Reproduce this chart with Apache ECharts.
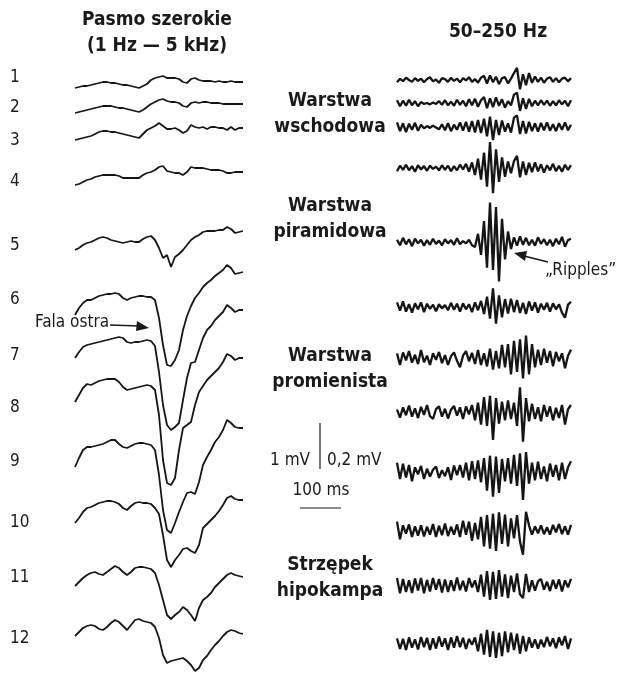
<!DOCTYPE html>
<html>
<head>
<meta charset="utf-8">
<script src="https://cdn.jsdelivr.net/npm/echarts@6/dist/echarts.min.js"></script>
<style>
html,body{margin:0;padding:0;background:#fff;}
#main{width:621px;height:675px;}
</style>
</head>
<body>
<div id="main"></div>
<script>
// czas próbek (ms)
var leftTimeMs = [0,10,20,30,40,50,60,70,80,90,100,110,120,130,140,150,160,170,180,190,200,210,220,230,240,250,260,270,280,290,300,310,320,330,340,350,360,370,380,390,400,410,420];
var rightTimeMs = [0,7.5,15,22.5,30,37.5,45,52.5,60,67.5,75,82.5,90,97.5,105,112.5,120,127.5,135,142.5,150,157.5,165,172.5,180,187.5,195,202.5,210,217.5,225,232.5,240,247.5,255,262.5,270,277.5,285,292.5,300,307.5,315,322.5,330,337.5,345,352.5,360,367.5,375,382.5,390,397.5,405,412.5,420,427.5,435];

// pasmo szerokie (uV)
var broad1 = [-84,-63,-42,-42,-21,0,21,42,42,21,21,0,-21,-21,-42,-63,-84,-42,0,84,126,147,168,126,126,126,105,42,21,105,126,84,63,63,63,42,63,42,42,63,42,42,42];
var broad2 = [-105,-84,-63,-42,-21,0,21,42,42,42,21,0,0,-21,-42,-63,-84,-42,21,84,126,168,189,147,126,126,105,42,21,105,126,105,126,126,105,105,105,84,84,84,84,84,84];
var broad3 = [-168,-147,-126,-105,-84,-42,0,21,21,0,0,-21,-42,-63,-84,-105,-126,-42,42,84,126,189,126,63,63,84,42,-21,21,147,105,84,105,63,105,105,84,84,42,105,42,84,84];
var broad4 = [-189,-168,-126,-84,-63,-21,0,21,21,21,21,0,-42,-42,-42,-42,-42,21,63,84,126,189,210,105,84,63,63,21,84,189,168,168,168,147,126,126,126,105,63,63,84,84,84];
var broad5 = [-168,-126,-63,-21,0,42,84,105,84,42,21,0,-21,0,21,0,0,63,105,126,42,-126,-336,-273,-525,-315,-252,-168,-63,42,105,147,210,231,231,231,252,252,315,273,189,210,231];
var broad6 = [-378,-231,-126,-63,-63,-21,21,42,63,63,84,63,-21,-63,-21,0,21,21,0,0,-63,-441,-1008,-1428,-1449,-1323,-1113,-693,-399,-189,-21,84,210,294,357,441,504,567,672,609,483,504,525];
var broad7 = [-336,-210,-105,-63,-42,-21,0,21,42,63,84,105,84,0,-21,0,0,21,42,21,-84,-630,-1323,-1743,-1848,-1785,-1701,-1218,-756,-441,-420,-168,84,252,336,462,546,630,777,714,630,672,672];
var broad8 = [-315,-168,-21,63,42,84,126,147,168,168,168,105,0,-63,-42,-21,0,21,42,21,-63,-588,-1533,-2016,-2058,-1911,-1323,-861,-798,-735,-378,-105,21,147,231,315,399,525,693,651,567,609,609];
var broad9 = [-462,-273,-105,-42,-42,-21,0,21,63,105,105,21,-42,-63,-21,21,42,42,21,0,-105,-630,-1365,-1785,-1848,-1638,-1407,-1197,-1008,-987,-1029,-777,-420,-252,-105,63,168,315,525,462,378,357,357];
var broad10 = [-378,-273,-147,-63,-42,0,42,63,84,84,63,21,-63,-105,-21,42,63,42,42,21,-63,-189,-630,-1155,-1302,-1155,-1050,-924,-903,-966,-1008,-840,-483,-399,-315,-231,-126,0,147,189,126,105,105];
var broad11 = [-336,-252,-168,-105,-63,-42,-84,-105,-42,21,84,42,-42,-105,-42,42,63,63,42,21,-63,-315,-630,-945,-1029,-945,-882,-777,-840,-945,-1071,-798,-630,-567,-483,-357,-273,-189,-105,-63,-105,-126,-147];
var broad12 = [-273,-189,-105,-63,-42,-63,-126,-147,-84,0,63,21,-63,-147,-42,63,84,42,21,0,-84,-315,-672,-840,-798,-777,-756,-735,-798,-882,-1008,-945,-777,-693,-567,-462,-378,-273,-189,-147,-168,-210,-231];

// 50-250 Hz (uV)
var ripple1 = [-10,5,-5,10,0,-8,8,-4,6,-10,4,12,-6,2,-12,8,4,-8,10,-4,6,-10,8,-2,12,-8,4,-12,10,18,-15,20,-10,14,-18,8,12,-14,6,30,52,-40,25,-22,30,-12,15,-8,10,-12,6,12,-8,8,-10,6,10,-6,8];
var ripple2 = [12,-14,10,-12,14,-10,8,-14,4,-4,0,-6,2,-4,8,-8,12,-10,6,-12,14,-8,10,-14,16,-10,18,-16,12,26,-22,20,-18,24,-12,16,-20,8,-10,36,44,-34,20,-26,18,-14,10,-10,12,-8,10,-12,8,-10,12,-6,10,-14,12];
var ripple3 = [20,-18,16,-22,14,-12,18,-16,10,-6,4,-4,6,-2,-10,12,-14,16,-18,10,-12,20,-16,22,-20,26,-24,30,-26,36,-40,44,-56,30,-34,28,-20,16,-24,40,50,-30,26,-28,22,-18,16,-20,18,-14,20,-16,12,-18,16,-12,20,-14,10];
var ripple4 = [-14,10,-8,14,-10,8,-16,12,-6,8,-12,10,-4,6,-10,12,-8,10,-14,8,-10,14,-6,18,-16,24,-30,40,-50,66,-80,112,-108,80,-60,46,-38,28,-22,30,52,-40,28,-30,22,-18,24,-14,16,-20,12,-10,18,-14,10,-16,14,-8,12];
var ripple5 = [10,-14,18,-10,12,-18,14,-6,10,-16,8,-12,14,-8,6,-14,12,-6,8,-12,16,-10,4,-6,10,-14,-22,35,-55,90,-110,170,-120,150,-170,100,-75,45,-30,20,-16,24,-12,18,-14,10,-16,20,-8,12,-14,10,-18,14,-10,22,-20,8,14];
var ripple6 = [20,-16,24,-20,12,-24,16,-10,20,-22,14,-8,10,-18,12,-6,8,-14,18,-12,14,-20,16,-10,12,-22,20,-14,26,-30,44,-50,80,-72,50,-44,34,-28,36,-22,30,-26,18,-30,24,-16,20,-24,14,-12,18,-20,16,-10,12,-24,-46,10,22];
var ripple7 = [20,-30,24,-10,30,-20,14,-26,34,-18,10,-30,20,-8,26,-22,12,-30,8,24,-12,-40,10,30,-14,22,-26,34,-30,20,-36,40,-50,30,-44,56,-40,60,-70,74,-60,80,-88,96,-70,60,-40,36,-30,40,-20,30,-36,26,-14,20,-44,10,36];
var ripple8 = [10,-24,20,-14,28,-20,16,-26,22,-12,30,-18,-30,12,24,-20,14,-28,10,26,-16,20,-30,24,-10,30,-36,40,-54,64,-60,70,-120,60,-50,44,-36,50,-30,40,-60,106,-128,60,-40,36,-30,20,-40,30,-20,24,-36,18,-26,30,-54,12,30];
var ripple9 = [40,-30,36,-24,30,-40,20,-10,26,-30,14,-20,10,24,-26,8,-18,20,-34,28,-14,30,-24,40,-36,46,-30,50,-44,60,-80,70,-106,66,-90,56,-40,60,-50,74,-60,80,-120,86,-50,40,-36,44,-30,24,-40,36,-20,30,-36,40,-30,20,46];
var ripple10 = [36,-40,20,-16,24,-30,16,-24,20,-28,14,-20,26,-30,18,-22,28,-26,14,-20,24,-30,40,-20,36,-46,30,-40,56,-70,64,-80,70,-90,76,-60,66,-70,50,-36,64,-50,-106,78,20,-20,16,-14,20,-18,12,-20,22,-10,26,-18,16,-20,22];
var ripple11 = [30,-36,26,-30,20,-34,28,-24,30,-36,22,-28,30,-20,26,-32,24,-30,20,-26,32,-22,18,-28,30,-10,20,-30,44,-50,60,-64,56,-60,64,-50,46,-56,40,-30,50,-40,-56,48,-30,20,-24,16,26,-20,14,-26,22,-16,24,-28,20,-10,26];
var ripple12 = [20,-26,18,-30,24,-20,16,-28,26,-18,22,-30,20,-24,28,-16,20,-30,24,-20,30,-18,22,-26,18,-8,24,-36,40,-50,56,-60,50,-64,44,-56,50,-40,44,-30,40,-46,30,-36,24,-20,16,-24,14,-18,26,-14,20,-22,24,-10,30,-26,20];

var traceLabels = ['1','2','3','4','5','6','7','8','9','10','11','12'];
var layerLabels = [['Warstwa','wschodowa'],['Warstwa','piramidowa'],['Warstwa','promienista'],['Strzępek','hipokampa']];

var leftTraces = [broad1,broad2,broad3,broad4,broad5,broad6,broad7,broad8,broad9,broad10,broad11,broad12];
var rightTraces = [ripple1,ripple2,ripple3,ripple4,ripple5,ripple6,ripple7,ripple8,ripple9,ripple10,ripple11,ripple12];

// uklad strony
var FONT = "'Liberation Sans Narrow','DejaVu Sans Condensed','Roboto',sans-serif";
var leftBase = [84,108,132,176,242,297,342,387,445,505,570,623];
var rightBase = [80,103,127,168,242,307,358,412,472,530,585,643];
var labelY = [78,108,141,182,246,300,356,408,462,523,578,639];
var layerY = [101,206,356,565];
var leftPx = 1/21, rightPx = 1/4.3; // px na uV

var grids=[],xAxes=[],yAxes=[],series=[];
function addTrace(vals,times,base,x0,w,tmax,ymin,ymax,pxPer,lw){
	var k = grids.length;
	grids.push({left:x0, width:w, top:base-ymax*pxPer, height:(ymax-ymin)*pxPer, outerBoundsMode:'none', containLabel:false});
	xAxes.push({type:'value', gridIndex:k, min:0, max:tmax, show:false});
	yAxes.push({type:'value', gridIndex:k, min:ymin, max:ymax, show:false});
	series.push({
		type:'line', xAxisIndex:k, yAxisIndex:k, showSymbol:false, silent:true,
		lineStyle:{color:'#151515', width:lw},
		data: times.map(function(t,j){return [t, vals[j]];})
	});
}
for(var i=0;i<12;i++){
	addTrace(leftTraces[i],leftTimeMs,leftBase[i],75,168,420,-2200,900,leftPx,1.8);
	addTrace(rightTraces[i],rightTimeMs,rightBase[i],397,174,435,-200,200,rightPx,2.3);
}

function txt(s,x,y,size,bold,align){
	return {type:'text', silent:true, style:{
		text:s, x:x, y:y, fill:'#1a1a1a',
		font:(bold?'bold ':'')+size+'px '+FONT,
		textAlign:align||'center', textVerticalAlign:'middle',
		align:align||'center', verticalAlign:'middle'
	}};
}
var graphics = [
	txt('Pasmo szerokie',157,20,19,true),
	txt('(1 Hz — 5 kHz)',157,46,19,true),
	txt('50–250 Hz',498,32,19,true)
];
traceLabels.forEach(function(l,i){ graphics.push(txt(l,10,labelY[i],17,false,'left')); });
layerLabels.forEach(function(p,i){
	graphics.push(txt(p[0],330,layerY[i],19,true));
	graphics.push(txt(p[1],330,layerY[i]+26,19,true));
});
// fala ostra + strzalka
graphics.push(txt('Fala ostra',35,323,17,false,'left'));
graphics.push({type:'line',silent:true,shape:{x1:110,y1:325,x2:140,y2:326},style:{stroke:'#1a1a1a',lineWidth:1.5}});
graphics.push({type:'polygon',silent:true,shape:{points:[[149,328],[137,321],[136,331]]},style:{fill:'#1a1a1a'}});
// ripples + strzalka
graphics.push({type:'line',silent:true,shape:{x1:548,y1:262,x2:524,y2:256},style:{stroke:'#1a1a1a',lineWidth:1.5}});
graphics.push({type:'polygon',silent:true,shape:{points:[[514,253],[527,251],[525,261]]},style:{fill:'#1a1a1a'}});
graphics.push(txt('„Ripples”',545,271,17,false,'left'));
// skala
graphics.push({type:'line',silent:true,shape:{x1:320,y1:423,x2:320,y2:469},style:{stroke:'#1a1a1a',lineWidth:1.2}});
graphics.push(txt('1 mV',310,461,17,false,'right'));
graphics.push(txt('0,2 mV',327,461,17,false,'left'));
graphics.push(txt('100 ms',321,491,17,false));
graphics.push({type:'line',silent:true,shape:{x1:300,y1:508,x2:341,y2:508},style:{stroke:'#1a1a1a',lineWidth:1.2}});

var myChart = echarts.init(document.getElementById('main'));
myChart.setOption({
	animation:false,
	backgroundColor:'#fff',
	grid:grids, xAxis:xAxes, yAxis:yAxes, series:series,
	graphic:{elements:graphics}
});
</script>
</body>
</html>
